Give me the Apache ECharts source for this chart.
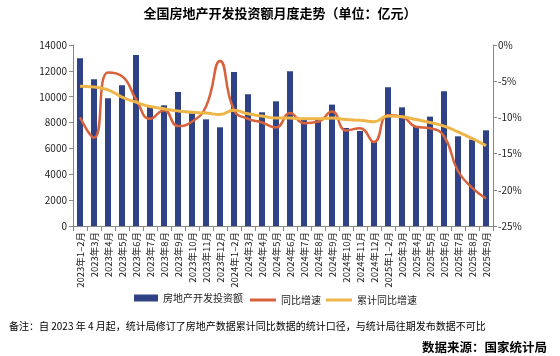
<!DOCTYPE html>
<html><head><meta charset="utf-8">
<script src="https://cdn.jsdelivr.net/npm/echarts@6/dist/echarts.min.js"></script>
<style>html,body{margin:0;padding:0;background:#fff}#c{width:560px;height:356px}</style>
</head><body><div id="c"></div>
<script>
const categories = ['2023年1–2月','2023年3月','2023年4月','2023年5月','2023年6月','2023年7月','2023年8月','2023年9月','2023年10月','2023年11月','2023年12月',
'2024年1–2月','2024年3月','2024年4月','2024年5月','2024年6月','2024年7月','2024年8月','2024年9月','2024年10月','2024年11月','2024年12月',
'2025年1–2月','2025年3月','2025年4月','2025年5月','2025年6月','2025年7月','2025年8月','2025年9月'];
const investment = [12976,11346,9880,10880,13225,9230,9335,10364,8716,8250,7633,
11910,10186,8793,9644,11964,8200,8200,9389,7580,7348,6500,
10727,9180,7735,8460,10418,6937,6680,7400];
const yoy = [-10.0,-12.8,-3.8,-4.3,-7.5,-10.2,-9.0,-11.2,-10.6,-8.5,-2.2,
-9.0,-10.2,-10.7,-11.4,-9.4,-10.8,-10.6,-9.2,-11.8,-11.5,-13.4,
-9.7,-9.9,-11.3,-11.5,-12.6,-17.4,-19.7,-21.2];
const cumYoy = [-5.7,-5.8,-6.2,-7.2,-7.9,-8.5,-8.8,-9.1,-9.3,-9.4,-9.6,
-9.0,-9.5,-9.8,-10.1,-10.1,-10.2,-10.2,-10.1,-10.3,-10.4,-10.6,
-9.8,-9.9,-10.3,-10.7,-11.2,-12.0,-12.9,-13.9];
const leftTicks = {min:0,max:14000,interval:2000};
const rightTicks = {min:-25,max:0,interval:5};

const font = '"Noto Sans CJK SC","Noto Sans",sans-serif';
const chart = echarts.init(document.getElementById('c'), null, {renderer:'canvas'});
chart.setOption({
  animation:false,
  textStyle:{fontFamily:font},
  title:[{text:'全国房地产开发投资额月度走势（单位：亿元）',left:'center',top:2,
    textStyle:{fontSize:13,fontWeight:'bold',color:'#000',fontFamily:font}},
    {text:'备注：自 2023 年 4 月起，统计局修订了房地产数据累计同比数据的统计口径，与统计局往期发布数据不可比',left:4,top:316,
    textStyle:{fontSize:10,fontWeight:'normal',color:'#000',fontFamily:font}},
    {text:'数据来源：国家统计局',right:8,top:336,
    textStyle:{fontSize:12.5,fontWeight:'bold',color:'#000',fontFamily:font}}],
  legend:[{top:293,left:134,itemGap:6,itemWidth:24,itemHeight:7,padding:0,
    textStyle:{fontSize:10,color:'#222'},
    data:[{name:'房地产开发投资额',icon:'rect'}]},
   {top:293,left:250,itemGap:5,itemWidth:26,itemHeight:3,padding:[2,0,0,0],
    textStyle:{fontSize:10,color:'#222'},
    data:[{name:'同比增速',icon:'rect'},{name:'累计同比增速',icon:'rect'}]}],
  grid:{left:73,right:67,top:45,bottom:130},
  xAxis:{type:'category',data:categories,
    axisLine:{lineStyle:{color:'#888'}},
    axisTick:{show:true,interval:0,length:5,lineStyle:{color:'#888'}},
    axisLabel:{interval:0,rotate:90,fontSize:9.5,color:'#222',margin:6}},
  yAxis:[{type:'value',min:leftTicks.min,max:leftTicks.max,interval:leftTicks.interval,
    splitLine:{show:false},
    axisLine:{show:true,lineStyle:{color:'#888'}},
    axisTick:{show:true,length:4,lineStyle:{color:'#888'}},
    axisLabel:{fontSize:10,color:'#222',margin:6,formatter:v=>String(v)}},
   {type:'value',min:rightTicks.min,max:rightTicks.max,interval:rightTicks.interval,
    position:'right',splitLine:{show:false},
    axisLine:{show:true,lineStyle:{color:'#888'}},
    axisTick:{show:true,length:4,lineStyle:{color:'#888'}},
    axisLabel:{fontSize:10,color:'#222',margin:5,formatter:v=>v+'%'}}],
  series:[
    {name:'房地产开发投资额',type:'bar',data:investment,barWidth:6,
      itemStyle:{color:'#2e4285'}},
    {name:'同比增速',type:'line',yAxisIndex:1,data:yoy,smooth:0.5,symbol:'none',
      lineStyle:{color:'#d8623c',width:2.5},itemStyle:{color:'#d8623c'}},
    {name:'累计同比增速',type:'line',yAxisIndex:1,data:cumYoy,smooth:0.5,symbol:'none',
      lineStyle:{color:'#eeb548',width:3},itemStyle:{color:'#eeb548'}}
  ]
});
</script></body></html>
